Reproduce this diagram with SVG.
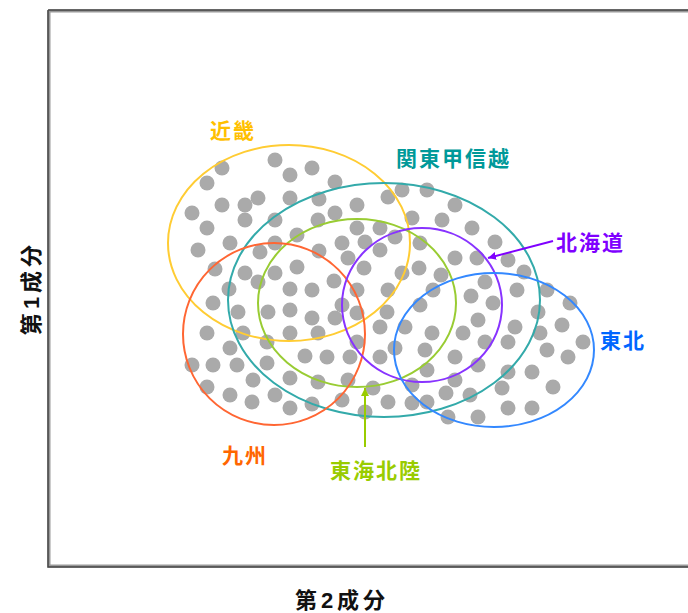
<svg xmlns="http://www.w3.org/2000/svg" width="688" height="613" viewBox="0 0 688 613">
<style>
text{font-family:"Liberation Sans","Noto Sans CJK JP",sans-serif;font-weight:bold;font-size:21px;letter-spacing:2px}
.ax{fill:#111;font-size:22px;letter-spacing:4px}
.d{fill:#aaaaaa}
.e{fill:none;stroke-width:2}
</style>
<defs>
<marker id="ap" viewBox="0 0 10 10" refX="10" refY="5" markerWidth="8" markerHeight="8" orient="auto" markerUnits="userSpaceOnUse"><path d="M0,0L10,5L0,10z" fill="#7f00ff"/></marker>
<marker id="ag" viewBox="0 0 10 10" refX="10" refY="5" markerWidth="8" markerHeight="8" orient="auto" markerUnits="userSpaceOnUse"><path d="M0,0L10,5L0,10z" fill="#99cc00"/></marker>
</defs>
<rect width="688" height="613" fill="#fff"/>
<g id="frame">
<path d="M49,11H690M49,11V566H690" fill="none" stroke="#999" stroke-width="3"/>
<path d="M48,10H690M48,10V567H690" fill="none" stroke="#444" stroke-width="1.5"/>
</g>
<text class="ax" x="342" y="608" text-anchor="middle">第2成分</text>
<text class="ax" transform="translate(39,288) rotate(-90)" text-anchor="middle">第1成分</text>
<g id="dots">
<circle class="d" cx="275" cy="160" r="7.5"/><circle class="d" cx="222" cy="168" r="7.5"/><circle class="d" cx="290" cy="175" r="7.5"/><circle class="d" cx="207" cy="183" r="7.5"/><circle class="d" cx="258" cy="198" r="7.5"/><circle class="d" cx="290" cy="198" r="7.5"/><circle class="d" cx="222" cy="205" r="7.5"/><circle class="d" cx="245" cy="205" r="7.5"/><circle class="d" cx="192" cy="213" r="7.5"/><circle class="d" cx="245" cy="220" r="7.5"/><circle class="d" cx="275" cy="220" r="7.5"/><circle class="d" cx="207" cy="228" r="7.5"/><circle class="d" cx="230" cy="243" r="7.5"/><circle class="d" cx="275" cy="243" r="7.5"/><circle class="d" cx="297" cy="235" r="7.5"/><circle class="d" cx="198" cy="250" r="7.5"/><circle class="d" cx="260" cy="252" r="7.5"/><circle class="d" cx="215" cy="269" r="7.5"/><circle class="d" cx="245" cy="273" r="7.5"/><circle class="d" cx="275" cy="273" r="7.5"/><circle class="d" cx="297" cy="267" r="7.5"/><circle class="d" cx="258" cy="282" r="7.5"/><circle class="d" cx="290" cy="289" r="7.5"/>
<circle class="d" cx="312" cy="168" r="7.5"/><circle class="d" cx="335" cy="182" r="7.5"/><circle class="d" cx="402" cy="190" r="7.5"/><circle class="d" cx="427" cy="190" r="7.5"/><circle class="d" cx="388" cy="197" r="7.5"/><circle class="d" cx="357" cy="205" r="7.5"/><circle class="d" cx="319" cy="199" r="7.5"/><circle class="d" cx="335" cy="213" r="7.5"/><circle class="d" cx="318" cy="220" r="7.5"/><circle class="d" cx="412" cy="218" r="7.5"/><circle class="d" cx="442" cy="220" r="7.5"/><circle class="d" cx="357" cy="228" r="7.5"/><circle class="d" cx="380" cy="228" r="7.5"/><circle class="d" cx="395" cy="237" r="7.5"/><circle class="d" cx="342" cy="243" r="7.5"/><circle class="d" cx="365" cy="242" r="7.5"/><circle class="d" cx="420" cy="243" r="7.5"/><circle class="d" cx="319" cy="251" r="7.5"/><circle class="d" cx="380" cy="250" r="7.5"/><circle class="d" cx="348" cy="258" r="7.5"/><circle class="d" cx="364" cy="268" r="7.5"/><circle class="d" cx="402" cy="273" r="7.5"/><circle class="d" cx="419" cy="268" r="7.5"/><circle class="d" cx="334" cy="281" r="7.5"/><circle class="d" cx="441" cy="275" r="7.5"/>
<circle class="d" cx="455" cy="205" r="7.5"/><circle class="d" cx="472" cy="228" r="7.5"/><circle class="d" cx="495" cy="242" r="7.5"/><circle class="d" cx="455" cy="258" r="7.5"/><circle class="d" cx="477" cy="258" r="7.5"/><circle class="d" cx="508" cy="260" r="7.5"/><circle class="d" cx="524" cy="272" r="7.5"/><circle class="d" cx="485" cy="282" r="7.5"/>
<circle class="d" cx="229" cy="289" r="7.5"/><circle class="d" cx="213" cy="303" r="7.5"/><circle class="d" cx="238" cy="312" r="7.5"/><circle class="d" cx="268" cy="312" r="7.5"/><circle class="d" cx="290" cy="310" r="7.5"/><circle class="d" cx="207" cy="333" r="7.5"/><circle class="d" cx="243" cy="333" r="7.5"/><circle class="d" cx="267" cy="342" r="7.5"/><circle class="d" cx="290" cy="333" r="7.5"/><circle class="d" cx="230" cy="348" r="7.5"/><circle class="d" cx="192" cy="365" r="7.5"/><circle class="d" cx="213" cy="365" r="7.5"/><circle class="d" cx="237" cy="365" r="7.5"/><circle class="d" cx="267" cy="363" r="7.5"/><circle class="d" cx="253" cy="380" r="7.5"/><circle class="d" cx="290" cy="378" r="7.5"/><circle class="d" cx="207" cy="387" r="7.5"/><circle class="d" cx="230" cy="395" r="7.5"/><circle class="d" cx="252" cy="402" r="7.5"/><circle class="d" cx="275" cy="395" r="7.5"/><circle class="d" cx="290" cy="408" r="7.5"/>
<circle class="d" cx="312" cy="290" r="7.5"/><circle class="d" cx="357" cy="290" r="7.5"/><circle class="d" cx="388" cy="290" r="7.5"/><circle class="d" cx="433" cy="290" r="7.5"/><circle class="d" cx="342" cy="305" r="7.5"/><circle class="d" cx="357" cy="313" r="7.5"/><circle class="d" cx="387" cy="312" r="7.5"/><circle class="d" cx="420" cy="305" r="7.5"/><circle class="d" cx="312" cy="318" r="7.5"/><circle class="d" cx="335" cy="318" r="7.5"/><circle class="d" cx="318" cy="333" r="7.5"/><circle class="d" cx="380" cy="327" r="7.5"/><circle class="d" cx="405" cy="327" r="7.5"/><circle class="d" cx="432" cy="333" r="7.5"/><circle class="d" cx="357" cy="342" r="7.5"/><circle class="d" cx="395" cy="348" r="7.5"/><circle class="d" cx="425" cy="350" r="7.5"/><circle class="d" cx="305" cy="356" r="7.5"/><circle class="d" cx="327" cy="357" r="7.5"/><circle class="d" cx="350" cy="357" r="7.5"/><circle class="d" cx="380" cy="357" r="7.5"/><circle class="d" cx="427" cy="370" r="7.5"/><circle class="d" cx="348" cy="380" r="7.5"/><circle class="d" cx="318" cy="382" r="7.5"/><circle class="d" cx="373" cy="388" r="7.5"/><circle class="d" cx="412" cy="385" r="7.5"/><circle class="d" cx="342" cy="400" r="7.5"/><circle class="d" cx="388" cy="402" r="7.5"/><circle class="d" cx="412" cy="403" r="7.5"/><circle class="d" cx="427" cy="402" r="7.5"/><circle class="d" cx="312" cy="404" r="7.5"/><circle class="d" cx="365" cy="412" r="7.5"/><circle class="d" cx="446" cy="393" r="7.5"/><circle class="d" cx="448" cy="417" r="7.5"/>
<circle class="d" cx="517" cy="290" r="7.5"/><circle class="d" cx="471" cy="296" r="7.5"/><circle class="d" cx="547" cy="290" r="7.5"/><circle class="d" cx="493" cy="303" r="7.5"/><circle class="d" cx="570" cy="303" r="7.5"/><circle class="d" cx="538" cy="312" r="7.5"/><circle class="d" cx="478" cy="320" r="7.5"/><circle class="d" cx="562" cy="325" r="7.5"/><circle class="d" cx="515" cy="327" r="7.5"/><circle class="d" cx="463" cy="333" r="7.5"/><circle class="d" cx="540" cy="333" r="7.5"/><circle class="d" cx="583" cy="342" r="7.5"/><circle class="d" cx="485" cy="342" r="7.5"/><circle class="d" cx="508" cy="342" r="7.5"/><circle class="d" cx="547" cy="350" r="7.5"/><circle class="d" cx="455" cy="357" r="7.5"/><circle class="d" cx="478" cy="365" r="7.5"/><circle class="d" cx="568" cy="357" r="7.5"/><circle class="d" cx="508" cy="372" r="7.5"/><circle class="d" cx="532" cy="372" r="7.5"/><circle class="d" cx="455" cy="380" r="7.5"/><circle class="d" cx="553" cy="387" r="7.5"/><circle class="d" cx="502" cy="388" r="7.5"/><circle class="d" cx="470" cy="395" r="7.5"/><circle class="d" cx="508" cy="408" r="7.5"/><circle class="d" cx="532" cy="408" r="7.5"/><circle class="d" cx="478" cy="417" r="7.5"/>
</g>
<g id="kinki"><ellipse class="e" cx="289" cy="243" rx="121" ry="98" stroke="#ffcc33"/><text x="210" y="138" fill="#ffc000">近畿</text></g>
<g id="kanto"><ellipse class="e" cx="384" cy="300" rx="156" ry="117" stroke="#33aaaa"/><text x="396" y="166" fill="#009999">関東甲信越</text></g>
<g id="tokai"><ellipse class="e" cx="357" cy="303" rx="99" ry="84" stroke="#99cc33"/><text x="330" y="478" fill="#99cc00">東海北陸</text></g>
<g id="kyushu"><ellipse class="e" cx="274" cy="334" rx="91" ry="91" stroke="#ff6633"/><text x="222" y="463" fill="#ff6600">九州</text></g>
<g id="hokkaido"><ellipse class="e" cx="422" cy="305" rx="80" ry="77" stroke="#8833ff"/><text x="556" y="250" fill="#7f00ff">北海道</text></g>
<g id="tohoku"><ellipse class="e" cx="494" cy="350" rx="100" ry="77" stroke="#3388ff"/><text x="600" y="348" fill="#0066ff">東北</text></g>
<g id="connectors">
<line x1="553" y1="241" x2="488" y2="258" stroke="#7f00ff" stroke-width="2" marker-end="url(#ap)"/>
<line x1="365" y1="447" x2="365" y2="388" stroke="#99cc00" stroke-width="2" marker-end="url(#ag)"/>
</g>
</svg>
